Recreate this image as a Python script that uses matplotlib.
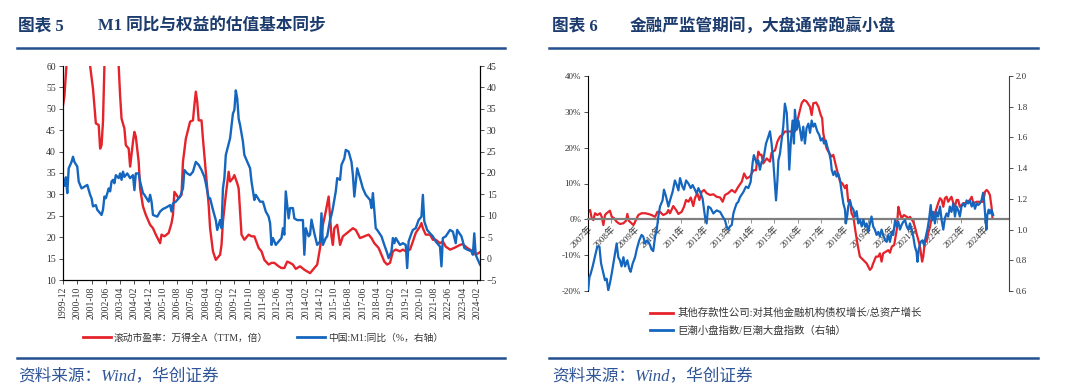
import matplotlib
matplotlib.use("Agg")
import matplotlib.pyplot as plt
from matplotlib.lines import Line2D

plt.rcParams["font.family"] = ["Liberation Serif", "Noto Sans CJK SC", "DejaVu Sans"]

RED = "#E5232B"
BLUE = "#1466BE"
NAVY = "#1D3C6E"
RULE = "#24508F"
TXT = "#333333"

# ---- left chart: PE (left axis) and M1 yoy (right axis), month index from 1999-12 ----
pe_month = [0, 1, 2, 3, 6, 10, 14, 17, 19, 21, 22, 23, 25, 26, 27, 28, 29, 31, 35, 38,
            39, 40, 41, 43, 44, 46, 47, 49, 50, 51, 53, 54, 56, 58, 61, 63, 65, 68, 69, 71,
            74, 76, 77, 78, 81, 83, 84, 86, 89, 91, 92, 93, 94, 95, 97, 98, 100, 102, 103, 105,
            107, 110, 111, 112, 114, 116, 117, 119, 120, 122, 123, 124, 125, 127, 130, 132, 134, 137, 139, 141,
            144, 146, 148, 151, 153, 155, 157, 159, 161, 163, 166, 169, 173, 176, 178, 180, 182, 184, 186, 188,
            189, 190, 192, 194, 196, 200, 203, 205, 208, 211, 214, 216, 218, 221, 223, 225, 227, 229, 231, 233,
            236, 238, 240, 243, 245, 247, 250, 251, 252, 254, 257, 259, 261, 264, 266, 268, 271, 274, 278, 280,
            283, 287, 289, 292]
pe_value = [50.8, 53, 58, 63, 66, 64, 67, 63, 60, 54.7, 50.8, 46.6, 46.2, 40.7, 41.5, 47, 60, 64, 66, 62,
            60, 53, 47.7, 45.4, 41.5, 40.7, 36.5, 42.3, 44.6, 43.5, 37.6, 31.4, 27.2, 25.2, 22.9, 22.1, 20.6, 18.6, 20.6, 20.2,
            21, 23.3, 25.2, 30.6, 29.1, 29.9, 37.6, 43, 47, 47.3, 50.8, 54, 51.6, 47.3, 47.3, 43, 35.3, 27.5, 22.1, 16.7,
            14.7, 15.9, 18.2, 23.7, 29.9, 35.3, 33, 33.8, 34.5, 32.6, 31.4, 26, 20.6, 19.4, 20.6, 20.2, 20.2, 17.5, 16.7, 14.7,
            13.6, 14, 14, 13.2, 12.8, 12.8, 14.3, 14, 13.6, 12.6, 13.2, 12.4, 11.6, 12.8, 13.6, 17.5, 22.9, 26, 29.5, 20.2,
            18.2, 22.1, 22.9, 18.2, 20.2, 21.3, 22.1, 21.7, 19.8, 20.2, 20.6, 19.8, 18.6, 17.5, 15.9, 14.3, 13.6, 14, 16.7, 17.1,
            16.7, 17.1, 16.7, 17.1, 19, 21, 22.5, 23.3, 22.1, 20.6, 20.6, 19.4, 19.4, 18.6, 19, 17.8, 17.1, 17.5, 18.2, 18.4,
            17.5, 16.7, 15.9, 16.5]

m1_month = [0, 1, 2, 3, 4, 6, 7, 8, 10, 11, 13, 15, 17, 19, 20, 21, 23, 24, 26, 27,
            28, 29, 30, 32, 33, 34, 35, 36, 37, 39, 40, 41, 42, 43, 45, 47, 49, 50, 51, 53,
            54, 56, 57, 60, 61, 62, 63, 66, 68, 70, 72, 75, 76, 77, 79, 82, 84, 85, 87, 89,
            91, 93, 95, 97, 99, 100, 102, 103, 105, 107, 108, 110, 111, 112, 113, 114, 117, 119, 120, 121,
            122, 123, 124, 126, 127, 130, 131, 132, 134, 135, 138, 140, 142, 144, 145, 146, 147, 149, 152, 153,
            154, 155, 156, 158, 159, 161, 162, 164, 166, 168, 169, 170, 172, 173, 174, 176, 178, 180, 181, 182,
            184, 185, 187, 188, 189, 191, 192, 194, 195, 197, 198, 200, 202, 203, 204, 206, 208, 210, 212, 215,
            216, 217, 219, 220, 223, 225, 227, 228, 230, 231, 232, 233, 236, 238, 240, 241, 242, 244, 245, 247,
            249, 251, 252, 253, 255, 257, 259, 261, 264, 265, 266, 268, 271, 273, 275, 276, 279, 280, 281, 283,
            286, 287, 288, 289, 290, 292]
m1_value = [18.5, 17.0, 19.0, 15.3, 21.1, 22.6, 23.8, 22.6, 21.5, 18, 16.4, 16.8, 17.2, 14.9, 14.1, 12.2, 12.5, 11.4, 10.6, 10.2,
            11.4, 14.5, 14.1, 16.4, 15.7, 18, 18.4, 17.6, 19.5, 18.8, 19.9, 18.4, 20.3, 19.1, 19.9, 18.8, 19.5, 16, 19.9, 19.9,
            18, 15.3, 14.9, 13.3, 14.9, 13.3, 10.2, 9.8, 11, 11.6, 11.9, 12.5, 11, 12.9, 13.3, 14.5, 16.4, 20.7, 19.9, 19.5,
            20.3, 22.6, 21.9, 20.7, 19.1, 17.6, 14.1, 14.1, 11.4, 9, 6.7, 9, 7.1, 16.4, 18.8, 24.2, 28.1, 33.9, 34.7, 39.3,
            37.4, 32.7, 31.2, 27.3, 24.2, 21.9, 21.1, 18, 13.7, 14.9, 13.3, 13.3, 11, 9.8, 8.3, 3.2, 4.8, 3.2, 4.4, 4.8,
            7.1, 5.6, 15.7, 9.4, 11.8, 11.8, 9.4, 9, 9, 9, 0.9, 7.1, 5.2, 5.6, 9.1, 5.9, 3.2, 4, 10.6, 3.2,
            4.8, 5.2, 9.1, 10.2, 11.8, 15.7, 18.8, 18.4, 21.9, 23.4, 25.4, 25, 22.6, 19.5, 14.5, 21.1, 18.8, 16.4, 14.9, 13.7,
            11.8, 15.3, 7.1, 6.7, 5.2, 3.2, 1.3, 0.1, 1.7, 4.8, 3.6, 4.8, 3.2, 3.6, 3.2, -2.2, 4, 5.9, 6.7, 7.1,
            9, 9.8, 14.9, 8.7, 6.7, 5.9, 5.2, 4, 2.8, -1.8, 4.8, 5.2, 6.7, 6.3, 3.6, 6.7, 5.2, 4, 2.5, 2.1,
            1.7, 0.9, 5.9, 0.9, 0.1, -1.4]

left_tick_pos = list(range(0, 291, 10))
left_tick_labels = ["1999-12", "2000-10", "2001-08", "2002-06", "2003-04", "2004-02", "2004-12", "2005-10",
                    "2006-08", "2007-06", "2008-04", "2009-02", "2009-12", "2010-10", "2011-08", "2012-06",
                    "2013-04", "2014-02", "2014-12", "2015-10", "2016-08", "2017-06", "2018-04", "2019-02",
                    "2019-12", "2020-10", "2021-08", "2022-06", "2023-04", "2024-02"]

# ---- right chart: claims ratio (left axis, %) and small/large cap ratio (right axis) ----
claim_year = [2007.01, 2007.09, 2007.16, 2007.23, 2007.3, 2007.4, 2007.52, 2007.59, 2007.66, 2007.73,
              2007.8, 2007.94, 2008.02, 2008.12, 2008.23, 2008.37, 2008.52, 2008.63, 2008.69, 2008.75,
              2008.87, 2008.95, 2009.02, 2009.16, 2009.3, 2009.45, 2009.59, 2009.73, 2009.88, 2009.98,
              2010.09, 2010.23, 2010.38, 2010.45, 2010.52, 2010.66, 2010.78, 2010.88, 2011.02, 2011.12,
              2011.21, 2011.31, 2011.41, 2011.52, 2011.59, 2011.69, 2011.78, 2011.88, 2011.98, 2012.09,
              2012.24, 2012.38, 2012.52, 2012.67, 2012.78, 2012.88, 2013.02, 2013.17, 2013.31, 2013.45,
              2013.6, 2013.7, 2013.81, 2013.95, 2014.1, 2014.21, 2014.31, 2014.38, 2014.45, 2014.52,
              2014.67, 2014.81, 2014.88, 2015.03, 2015.13, 2015.24, 2015.35, 2015.45, 2015.59, 2015.74,
              2015.88, 2016.03, 2016.17, 2016.27, 2016.38, 2016.53, 2016.6, 2016.67, 2016.79, 2016.89,
              2016.99, 2017.05, 2017.1, 2017.17, 2017.24, 2017.36, 2017.46, 2017.53, 2017.65, 2017.74,
              2017.82, 2017.92, 2018.03, 2018.1, 2018.17, 2018.24, 2018.31, 2018.39, 2018.46, 2018.56,
              2018.67, 2018.82, 2018.96, 2019.1, 2019.17, 2019.24, 2019.36, 2019.46, 2019.53, 2019.6,
              2019.67, 2019.79, 2019.89, 2019.96, 2020.04, 2020.14, 2020.25, 2020.32, 2020.39, 2020.46,
              2020.56, 2020.68, 2020.75, 2020.82, 2020.96, 2021.03, 2021.1, 2021.18, 2021.25, 2021.34,
              2021.39, 2021.46, 2021.53, 2021.6, 2021.68, 2021.75, 2021.89, 2022.03, 2022.11, 2022.18,
              2022.25, 2022.32, 2022.39, 2022.46, 2022.6, 2022.68, 2022.75, 2022.82, 2022.89, 2022.96,
              2023.11, 2023.25, 2023.39, 2023.47, 2023.54, 2023.68, 2023.82, 2023.96, 2024.04, 2024.11,
              2024.18, 2024.25, 2024.32, 2024.36]
claim_pct = [2.1, 2.6, 0.3, -0.2, 1.7, 1.2, 1.7, 0.7, -1.6, 1.2,
             1.7, 2.4, 0.7, 0.3, -0.7, -1.3, -1.1, -0.4, 1.5, -0.4,
             -1.1, -1.6, -0.7, 1.2, 1.7, 1.7, 1.5, 1.2, 0.7, 2.1,
             2.1, 1.2, 1.7, 2.6, 1.7, 3.7, 2.6, 1.5, 2.1, 3.5,
             5.4, 4.9, 6.1, 3.7, 5.9, 7.3, 5.4, 7.7, 8.2, 7.3,
             6.8, 7.0, 6.3, 6.1, 4.9, 6.8, 7.3, 8.2, 7.5, 9.1,
             10.5, 12.8, 11.4, 11.9, 13.7, 13.7, 18.9, 18, 18, 15.6,
             17, 16.1, 18.6, 19.3, 21.7, 23.1, 23.6, 24.5, 24.5, 24.5,
             24.5, 28.7, 32.4, 33.3, 32.9, 31.4, 29.1, 32.4, 32.6, 31.4,
             29.1, 28.2, 24, 21.7, 19.8, 18.4, 17.5, 18, 14.7, 12.4,
             10.5, 10, 8.7, 9.6, 4.9, 5.4, 1.7, 0.7, -2.5, -6.7,
             -10.4, -11.4, -12.3, -14.1, -13.6, -12.3, -10.4, -10.4, -9.5, -11.8,
             -9.5, -9, -8.6, -9.3, -7.6, -7.2, -3, 3.5, 1.7, 0.3,
             1.2, 0.7, 0.3, 0.7, -0.7, -2.1, -3.9, -5.8, -7.6, -11.8,
             -10.4, -6.2, -6.2, -3.9, -2.1, 0.7, 1.7, 4.5, 5.9, 5.4,
             3.5, 5.9, 6.3, 4.9, 6.3, 4.5, 3.5, 5.4, 5.4, 3.5,
             4.5, 4.5, 5.4, 6.3, 4.5, 4.9, 4.9, 4.9, 7.7, 8.2,
             7.7, 6.8, 3.5, 0.3]

size_year = [2007.01, 2007.06, 2007.11, 2007.2, 2007.26, 2007.33, 2007.4, 2007.49, 2007.56, 2007.66,
             2007.73, 2007.8, 2007.87, 2007.94, 2008.02, 2008.09, 2008.16, 2008.23, 2008.3, 2008.37,
             2008.44, 2008.52, 2008.59, 2008.69, 2008.77, 2008.83, 2008.92, 2009.02, 2009.09, 2009.2,
             2009.3, 2009.37, 2009.45, 2009.55, 2009.66, 2009.73, 2009.8, 2009.88, 2009.95, 2010.02,
             2010.09, 2010.2, 2010.26, 2010.35, 2010.45, 2010.52, 2010.63, 2010.73, 2010.81, 2010.88,
             2010.95, 2011.05, 2011.12, 2011.21, 2011.31, 2011.41, 2011.49, 2011.59, 2011.66, 2011.74,
             2011.84, 2011.92, 2012.02, 2012.09, 2012.16, 2012.26, 2012.38, 2012.52, 2012.67, 2012.78,
             2012.88, 2012.95, 2013.02, 2013.09, 2013.17, 2013.24, 2013.31, 2013.38, 2013.45, 2013.52,
             2013.67, 2013.78, 2013.88, 2013.98, 2014.07, 2014.12, 2014.24, 2014.31, 2014.38, 2014.45,
             2014.52, 2014.64, 2014.74, 2014.81, 2014.88, 2014.95, 2015.03, 2015.07, 2015.13, 2015.17,
             2015.24, 2015.31, 2015.38, 2015.45, 2015.53, 2015.6, 2015.64, 2015.7, 2015.78, 2015.84,
             2015.88, 2015.96, 2016.03, 2016.1, 2016.17, 2016.24, 2016.31, 2016.38, 2016.46, 2016.53,
             2016.6, 2016.67, 2016.74, 2016.84, 2016.93, 2016.99, 2017.07, 2017.13, 2017.21, 2017.27,
             2017.36, 2017.42, 2017.46, 2017.53, 2017.6, 2017.67, 2017.74, 2017.82, 2017.89, 2017.96,
             2018.03, 2018.07, 2018.13, 2018.17, 2018.24, 2018.31, 2018.39, 2018.46, 2018.53, 2018.6,
             2018.67, 2018.75, 2018.82, 2018.89, 2018.96, 2019.03, 2019.1, 2019.17, 2019.24, 2019.31,
             2019.39, 2019.46, 2019.53, 2019.6, 2019.67, 2019.75, 2019.82, 2019.89, 2019.96, 2020.04,
             2020.1, 2020.18, 2020.25, 2020.32, 2020.39, 2020.46, 2020.53, 2020.61, 2020.68, 2020.75,
             2020.82, 2020.89, 2020.96, 2021.03, 2021.1, 2021.14, 2021.2, 2021.27, 2021.36, 2021.42,
             2021.5, 2021.58, 2021.65, 2021.71, 2021.77, 2021.82, 2021.89, 2021.96, 2022.03, 2022.11,
             2022.18, 2022.25, 2022.32, 2022.39, 2022.46, 2022.53, 2022.6, 2022.68, 2022.75, 2022.82,
             2022.89, 2022.96, 2023.03, 2023.11, 2023.18, 2023.25, 2023.32, 2023.39, 2023.47, 2023.54,
             2023.61, 2023.68, 2023.75, 2023.82, 2023.89, 2023.96, 2024.0, 2024.06, 2024.1, 2024.14,
             2024.2, 2024.25, 2024.32, 2024.39]
size_ratio = [0.61, 0.69, 0.71, 0.76, 0.80, 0.845, 0.89, 0.89, 0.78, 0.715,
              0.67, 0.68, 0.605, 0.65, 0.715, 0.78, 0.845, 0.91, 0.82, 0.80,
              0.76, 0.82, 0.76, 0.80, 0.745, 0.725, 0.78, 0.82, 0.87, 0.93,
              0.965, 0.955, 0.91, 0.93, 0.90, 0.87, 0.86, 0.955, 1.0, 1.085,
              1.15, 1.19, 1.26, 1.215, 1.15, 1.19, 1.245, 1.32, 1.29, 1.255,
              1.335, 1.28, 1.26, 1.32, 1.30, 1.27, 1.29, 1.26, 1.235, 1.27,
              1.235, 1.20, 1.085, 1.04, 1.15, 1.14, 1.105, 1.125, 1.115, 1.085,
              1.06, 1.02, 1.0, 1.02, 1.03, 1.105, 1.14, 1.17, 1.18, 1.21,
              1.245, 1.28, 1.27, 1.31, 1.44, 1.485, 1.43, 1.45, 1.39, 1.44,
              1.45, 1.56, 1.605, 1.64, 1.56, 1.45, 1.28, 1.19, 1.32, 1.45,
              1.495, 1.58, 1.67, 1.82, 1.76, 1.56, 1.39, 1.56, 1.71, 1.56,
              1.78, 1.65, 1.71, 1.65, 1.58, 1.67, 1.56, 1.66, 1.69, 1.63,
              1.71, 1.67, 1.69, 1.64, 1.615, 1.58, 1.595, 1.56, 1.58, 1.54,
              1.495, 1.45, 1.39, 1.355, 1.38, 1.345, 1.365, 1.32, 1.24, 1.17,
              1.13, 1.04, 1.095, 1.15, 1.19, 1.15, 1.13, 1.085, 1.12, 1.04,
              1.065, 1.02, 1.065, 1.02, 1.04, 0.985, 1.04, 1.085, 1.02, 1.0,
              0.965, 0.985, 0.955, 1.0, 0.965, 0.93, 0.92, 0.965, 0.92, 0.985,
              0.965, 1.06, 1.02, 1.05, 1.0, 1.03, 1.05, 1.06, 1.02, 1.0,
              1.04, 1.0, 0.955, 0.89, 0.855, 0.79, 0.875, 0.92, 0.93, 0.90,
              0.955, 1.01, 1.08, 1.16, 1.06, 1.115, 1.04, 1.115, 1.085, 1.15,
              1.06, 1.0, 1.075, 1.105, 1.085, 1.15, 1.115, 1.17, 1.085, 1.15,
              1.125, 1.085, 1.15, 1.17, 1.15, 1.19, 1.17, 1.19, 1.15, 1.18,
              1.135, 1.17, 1.16, 1.17, 1.19, 1.24, 1.19, 1.07, 1.0, 1.095,
              1.13, 1.105, 1.13, 1.095]

right_years = list(range(2007, 2025))
right_tick_labels = [f"{y}年" for y in right_years]

fig = plt.figure(figsize=(10.8, 3.9), dpi=100)
W, H = 1080, 390


def box(x0, y0, x1, y1):
    return [x0 / W, 1 - y1 / H, (x1 - x0) / W, (y1 - y0) / H]


def style_ticks(ax, size):
    ax.tick_params(direction="out", length=3, width=0.6, labelsize=size, colors=TXT, pad=2)


# ----- left chart -----
ax1 = fig.add_axes(box(63, 66, 480, 280))
ax1.plot(pe_month, pe_value, color=RED, lw=1.7)
ax1.set_xlim(0, 292)
ax1.set_ylim(10, 60)
ax1.set_yticks(range(10, 61, 5))
ax1.set_xticks(left_tick_pos)
ax1.set_xticklabels(left_tick_labels, rotation=90)
ax2 = ax1.twinx()
ax2.plot(m1_month, m1_value, color=BLUE, lw=1.7)
ax2.set_ylim(-5, 45)
ax2.set_yticks(range(-5, 46, 5))
for a in (ax1, ax2):
    a.spines["top"].set_visible(False)
    for s in ("left", "right", "bottom"):
        a.spines[s].set_linewidth(0.8)
    style_ticks(a, 7)

fig.legend(handles=[Line2D([], [], color=RED, lw=2), Line2D([], [], color=BLUE, lw=2)],
           labels=["滚动市盈率：万得全A（TTM，倍）", "中国:M1:同比（%，右轴）"],
           loc="center", bbox_to_anchor=(263 / W, 1 - 338 / H), ncol=2, frameon=False,
           fontsize=7, handlelength=2.9, handletextpad=0.3, columnspacing=3.0,
           borderpad=0, borderaxespad=0, labelcolor=TXT)

# ----- right chart -----
ax3 = fig.add_axes(box(588, 76, 1009, 291))
ax3.plot(claim_year, claim_pct, color=RED, lw=1.6)
ax3.set_xlim(2007, 2025.07)
ax3.set_ylim(-20, 40)
ax3.set_yticks(range(-20, 41, 10))
ax3.set_yticklabels([f"{v}%" for v in range(-20, 41, 10)])
ax3.spines["bottom"].set_position(("data", 0))
ax3.spines["bottom"].set_color("#808080")
ax3.spines["bottom"].set_linewidth(1.6)
ax3.spines["top"].set_visible(False)
ax3.spines["right"].set_visible(False)
ax3.spines["left"].set_linewidth(0.8)
ax3.set_xticks(right_years)
ax3.set_xticklabels(right_tick_labels, rotation=45, ha="right", va="top", rotation_mode="anchor")
style_ticks(ax3, 6.5)
ax3.tick_params(axis="x", colors="#808080", labelcolor=TXT, pad=1)

ax4 = ax3.twinx()
ax4.plot(size_year, size_ratio, color=BLUE, lw=1.6)
ax4.set_ylim(0.6, 2.0)
ax4.set_yticks([0.6, 0.8, 1.0, 1.2, 1.4, 1.6, 1.8, 2.0])
ax4.set_yticklabels([f"{v:.1f}" for v in [0.6, 0.8, 1.0, 1.2, 1.4, 1.6, 1.8, 2.0]])
for s in ("top", "bottom", "left"):
    ax4.spines[s].set_visible(False)
ax4.spines["right"].set_linewidth(0.8)
ax4.spines["right"].set_color("#404040")
style_ticks(ax4, 6.5)

fig.legend(handles=[Line2D([], [], color=RED, lw=2), Line2D([], [], color=BLUE, lw=2)],
           labels=["其他存款性公司:对其他金融机构债权增长/总资产增长", "巨潮小盘指数/巨潮大盘指数（右轴）"],
           loc="upper left", bbox_to_anchor=(650 / W, 1 - 308 / H), ncol=1, frameon=False,
           fontsize=7.5, handlelength=2.2, handletextpad=0.4, labelspacing=0.75,
           borderpad=0, borderaxespad=0, labelcolor=TXT)

# ----- titles, rules and source lines -----
for x_tag, tag, x_txt, title in [(18, "图表 5", 98, "M1 同比与权益的估值基本同步"),
                                 (552, "图表 6", 630, "金融严监管期间，大盘通常跑赢小盘")]:
    fig.text(x_tag / W, 1 - 26 / H, tag, fontsize=12, fontweight="bold", color=NAVY, va="center")
    fig.text(x_txt / W, 1 - 26 / H, title, fontsize=12, fontweight="bold", color=NAVY, va="center")

for x0, x1 in [(17, 505), (549, 1038)]:
    for y in (48, 358):
        fig.add_artist(Line2D([x0 / W, x1 / W], [1 - y / H, 1 - y / H], color=RULE, lw=1.8))

for x0 in (18, 552):
    fig.text(x0 / W, 1 - 376 / H, "资料来源：Wind，华创证券", fontsize=12, color="#2F5597",
             va="center", style="italic")

fig.savefig("out.png", dpi=100)
